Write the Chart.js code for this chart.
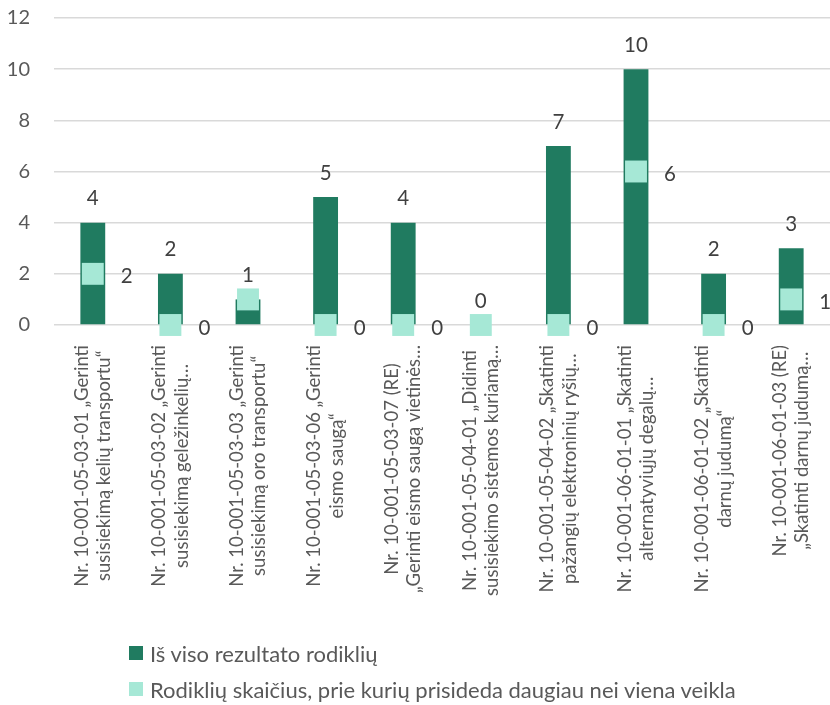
<!DOCTYPE html>
<html>
<head>
<meta charset="utf-8">
<script src="https://cdn.jsdelivr.net/npm/chart.js@4/dist/chart.umd.min.js"></script>
<style>
  html, body { margin: 0; padding: 0; background: #fff; }
  #wrap { position: relative; width: 830px; height: 705px; }
  #legend { position: absolute; left: 129px; top: 635px; font-family: Lato, 'Open Sans', sans-serif; font-size: 22px; color: #595959; white-space: nowrap; }
  .item { display: flex; align-items: center; height: 36px; }
  .box { width: 14px; height: 14px; margin-right: 7px; flex: none; }
</style>
</head>
<body>
<div id="wrap">
  <canvas id="c" width="830" height="705"></canvas>
  <div id="legend"></div>
</div>
<script>
const categories = [
  ["Nr. 10-001-05-03-01 „Gerinti", "susisiekimą kelių transportu“"],
  ["Nr. 10-001-05-03-02 „Gerinti", "susisiekimą geležinkelių…"],
  ["Nr. 10-001-05-03-03 „Gerinti", "susisiekimą oro transportu“"],
  ["Nr. 10-001-05-03-06 „Gerinti", "eismo saugą“"],
  ["Nr. 10-001-05-03-07 (RE)", "„Gerinti eismo saugą vietinės…"],
  ["Nr. 10-001-05-04-01 „Didinti", "susisiekimo sistemos kuriamą…"],
  ["Nr. 10-001-05-04-02 „Skatinti", "pažangių elektroninių ryšių…"],
  ["Nr. 10-001-06-01-01 „Skatinti", "alternatyviųjų degalų…"],
  ["Nr. 10-001-06-01-02 „Skatinti", "darnų judumą“"],
  ["Nr. 10-001-06-01-03 (RE)", "„Skatinti darnų judumą…"]
];
const seriesNames = [
  "Iš viso rezultato rodiklių",
  "Rodiklių skaičius, prie kurių prisideda daugiau nei viena veikla"
];
const totalValues = [4, 2, 1, 5, 4, 0, 7, 10, 2, 3];
const multiValues = [2, 0, 1, 0, 0, 0, 0, 6, 0, 1];
const yTicks = [0, 2, 4, 6, 8, 10, 12];

const BAR_COLOR = '#207B60';
const MARK_COLOR = '#A6E8D6';
const TEXT_COLOR = '#595959';
const LABEL_COLOR = '#404040';
const FONT = "Lato, 'Open Sans', sans-serif";

const labelPlugin = {
  id: 'valueLabels',
  afterDatasetsDraw(chart) {
    const ctx = chart.ctx;
    ctx.save();
    ctx.font = '20.5px ' + FONT;
    ctx.fillStyle = LABEL_COLOR;
    ctx.textAlign = 'center';
    ctx.textBaseline = 'middle';
    const barMeta = chart.getDatasetMeta(1);
    barMeta.data.forEach((el, i) => {
      ctx.fillText(String(totalValues[i]), el.x, el.y - 24);
    });
    const mMeta = chart.getDatasetMeta(0);
    mMeta.data.forEach((el, i) => {
      if (multiValues[i] === totalValues[i]) return;
      ctx.fillText(String(multiValues[i]), el.x + 34, el.y + 3);
    });
    ctx.restore();
  },
  afterDraw(chart) {
    const ctx = chart.ctx;
    const xs = chart.scales.x;
    const top = chart.chartArea.bottom + 20;
    ctx.save();
    ctx.font = '18.5px ' + FONT;
    ctx.fillStyle = TEXT_COLOR;
    ctx.textAlign = 'center';
    ctx.textBaseline = 'middle';
    const lh = 22.5;
    categories.forEach((lines, i) => {
      const x = xs.getPixelForValue(i);
      const widths = lines.map(l => ctx.measureText(l).width);
      const maxW = Math.max(...widths);
      const cy = top + maxW / 2;
      const n = lines.length;
      lines.forEach((line, j) => {
        const off = (j - (n - 1) / 2) * lh;
        ctx.save();
        ctx.translate(x + off, cy);
        ctx.rotate(-Math.PI / 2);
        ctx.fillText(line, 0, 0);
        ctx.restore();
      });
    });
    ctx.restore();
  }
};

new Chart(document.getElementById('c'), {
  data: {
    labels: categories,
    datasets: [
      {
        type: 'line',
        label: seriesNames[1],
        data: multiValues,
        showLine: false,
        pointStyle: 'rect',
        pointRadius: 15.5,
        pointHoverRadius: 15.5,
        pointBackgroundColor: MARK_COLOR,
        pointBorderColor: MARK_COLOR,
        pointBorderWidth: 0,
        backgroundColor: MARK_COLOR,
        borderColor: MARK_COLOR,
        clip: false,
        order: 0
      },
      {
        type: 'bar',
        label: seriesNames[0],
        data: totalValues,
        backgroundColor: BAR_COLOR,
        borderWidth: 0,
        categoryPercentage: 1,
        barPercentage: 0.32,
        order: 1
      }
    ]
  },
  options: {
    responsive: false,
    animation: false,
    devicePixelRatio: 1,
    layout: { autoPadding: false, padding: { top: 18, right: 0, bottom: 0, left: 0 } },
    plugins: { legend: { display: false }, tooltip: { enabled: false } },
    scales: {
      x: {
        offset: true,
        grid: { display: false },
        border: { display: false },
        ticks: { display: false },
        afterFit(s) { s.height = 380; }
      },
      y: {
        min: 0, max: 12,
        afterBuildTicks(s) { s.ticks = yTicks.map(v => ({ value: v })); },
        grid: { color: '#D9D9D9', lineWidth: 1.5, drawTicks: false },
        border: { display: false },
        ticks: { color: TEXT_COLOR, font: { family: FONT, size: 20 }, padding: 24 },
        afterFit(s) { s.width = 54; s.paddingTop = 0; s.paddingBottom = 0; }
      }
    }
  },
  plugins: [labelPlugin]
});

const lg = document.getElementById('legend');
[[BAR_COLOR, seriesNames[0]], [MARK_COLOR, seriesNames[1]]].forEach(([c, t]) => {
  const d = document.createElement('div'); d.className = 'item';
  const b = document.createElement('span'); b.className = 'box'; b.style.background = c;
  const s = document.createElement('span'); s.textContent = t;
  d.appendChild(b); d.appendChild(s); lg.appendChild(d);
});
</script>
</body>
</html>
